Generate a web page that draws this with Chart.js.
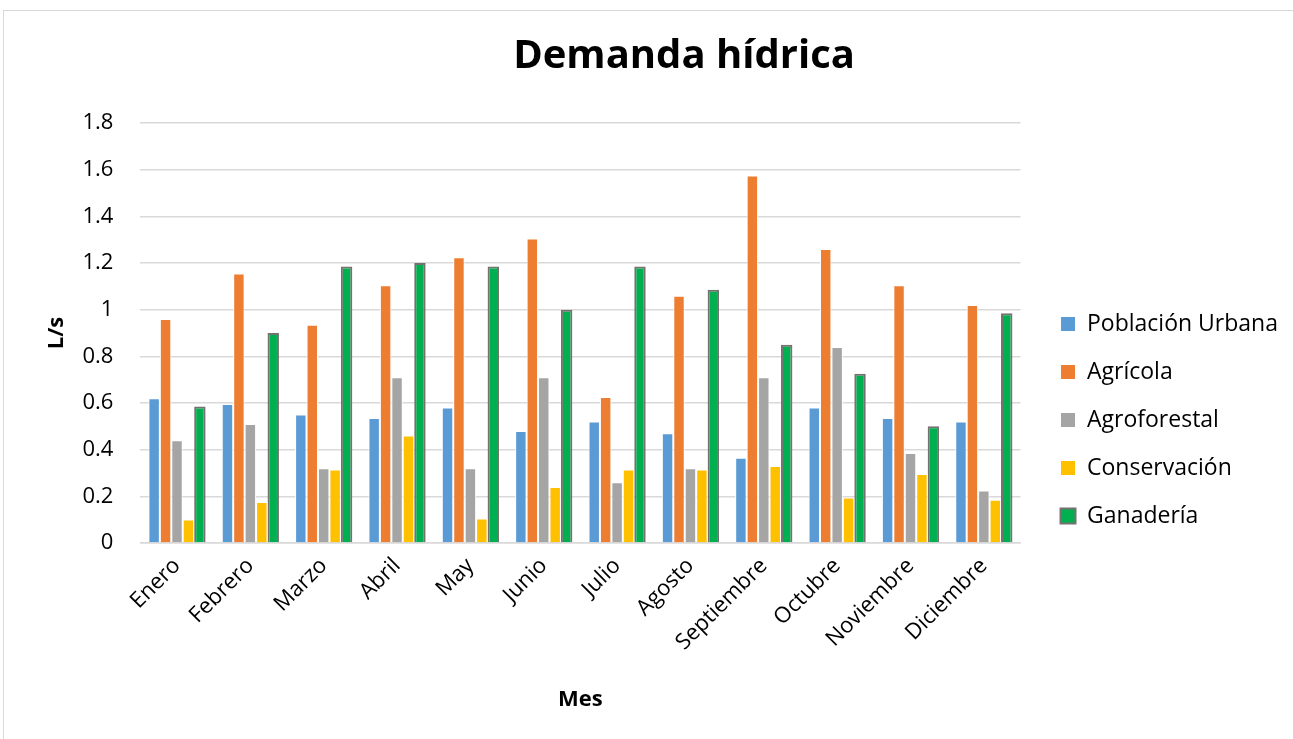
<!DOCTYPE html>
<html lang="es">
<head>
    <meta charset="UTF-8">
    <title>Demanda hídrica</title>
    <script src="https://cdn.jsdelivr.net/npm/chart.js"></script>
    <style>
        body {
            margin: 0;
            background-color: #ffffff;
        }
        .frame {
            position: absolute;
            left: 3px;
            top: 10px;
            width: 1300px;
            height: 740px;
            border: 1px solid #d9d9d9;
            pointer-events: none;
        }
        canvas {
            position: absolute;
            left: 0;
            top: 0;
        }
    </style>
</head>
<body>
    <canvas id="demandChart" width="1293" height="739"></canvas>
    <div class="frame"></div>

    <script>
        const months = ['Enero', 'Febrero', 'Marzo', 'Abril', 'May', 'Junio', 'Julio', 'Agosto', 'Septiembre', 'Octubre', 'Noviembre', 'Diciembre'];

        const poblacionUrbana = [0.62, 0.595, 0.55, 0.535, 0.58, 0.48, 0.52, 0.47, 0.365, 0.58, 0.535, 0.52];
        const agricola = [0.96, 1.155, 0.935, 1.105, 1.225, 1.305, 0.625, 1.06, 1.575, 1.26, 1.105, 1.02];
        const agroforestal = [0.44, 0.51, 0.32, 0.71, 0.32, 0.71, 0.26, 0.32, 0.71, 0.84, 0.385, 0.225];
        const conservacion = [0.1, 0.175, 0.315, 0.46, 0.105, 0.24, 0.315, 0.315, 0.33, 0.195, 0.295, 0.185];
        const ganaderia = [0.585, 0.9, 1.185, 1.2, 1.185, 1.0, 1.185, 1.085, 0.85, 0.725, 0.5, 0.985];

        const fontFamily = "'Open Sans', 'Noto Sans', sans-serif";
        const legendGap = 15;

        // title drawn by hand so it can sit where Excel put it
        const titlePlugin = {
            id: 'excelTitle',
            afterDraw(chart) {
                const ctx = chart.ctx;
                ctx.save();
                ctx.font = "bold 40px " + fontFamily;
                ctx.fillStyle = '#000000';
                ctx.textAlign = 'center';
                ctx.textBaseline = 'middle';
                ctx.fillText('Demanda hídrica', 684, 57);
                ctx.restore();
            }
        };

        // leave some room between the plot and the legend
        const legendGapPlugin = {
            id: 'legendGap',
            beforeLayout(chart) {
                const legend = chart.legend;
                if (!legend || legend._gapPatched) return;
                legend._gapPatched = true;
                const fit = legend.fit.bind(legend);
                legend.fit = function () {
                    fit();
                    this.width += legendGap;
                };
                const draw = legend.draw.bind(legend);
                legend.draw = function () {
                    this.ctx.save();
                    this.ctx.translate(legendGap, 0);
                    draw();
                    this.ctx.restore();
                };
            }
        };

        function series(label, data, color) {
            return {
                label: label,
                data: data,
                backgroundColor: color,
                borderColor: '#ffffff',
                borderWidth: 1
            };
        }

        const datasets = [
            series('Población Urbana', poblacionUrbana, '#5b9bd5'),
            series('Agrícola', agricola, '#ed7d31'),
            series('Agroforestal', agroforestal, '#a5a5a5'),
            series('Conservación', conservacion, '#ffc000'),
            {
                label: 'Ganadería',
                data: ganaderia,
                backgroundColor: '#00b050',
                borderColor: '#767171',
                borderWidth: 2
            }
        ];

        new Chart(document.getElementById('demandChart'), {
            type: 'bar',
            data: {
                labels: months,
                datasets: datasets
            },
            plugins: [titlePlugin, legendGapPlugin],
            options: {
                responsive: false,
                animation: false,
                datasets: {
                    bar: {
                        categoryPercentage: 0.78,
                        barPercentage: 1.0
                    }
                },
                layout: {
                    padding: { top: 123, right: 5, bottom: 22, left: 40 }
                },
                plugins: {
                    title: { display: false },
                    tooltip: { enabled: false },
                    legend: {
                        position: 'right',
                        align: 'center',
                        labels: {
                            color: '#000000',
                            font: { family: fontFamily, size: 23 },
                            boxWidth: 15,
                            boxHeight: 15,
                            padding: 25
                        }
                    }
                },
                scales: {
                    x: {
                        grid: { display: false },
                        border: { color: '#d9d9d9', width: 1.5 },
                        ticks: {
                            color: '#000000',
                            font: { family: fontFamily, size: 22 },
                            maxRotation: 45,
                            minRotation: 45,
                            padding: 2
                        },
                        title: {
                            display: true,
                            text: 'Mes',
                            color: '#000000',
                            font: { family: fontFamily, size: 22, weight: 'bold' },
                            padding: { top: 29, bottom: 4 }
                        }
                    },
                    y: {
                        min: 0,
                        max: 1.8,
                        grid: { color: '#d9d9d9', lineWidth: 1.5, drawTicks: false },
                        border: { display: false },
                        ticks: {
                            stepSize: 0.2,
                            color: '#000000',
                            font: { family: fontFamily, size: 22 },
                            padding: 27,
                            callback: (value) => String(Number(value.toFixed(1)))
                        },
                        title: {
                            display: true,
                            text: 'L/s',
                            color: '#000000',
                            font: { family: fontFamily, size: 22, weight: 'bold' },
                            padding: { top: 4, bottom: -15 }
                        }
                    }
                }
            }
        });
    </script>
</body>
</html>
